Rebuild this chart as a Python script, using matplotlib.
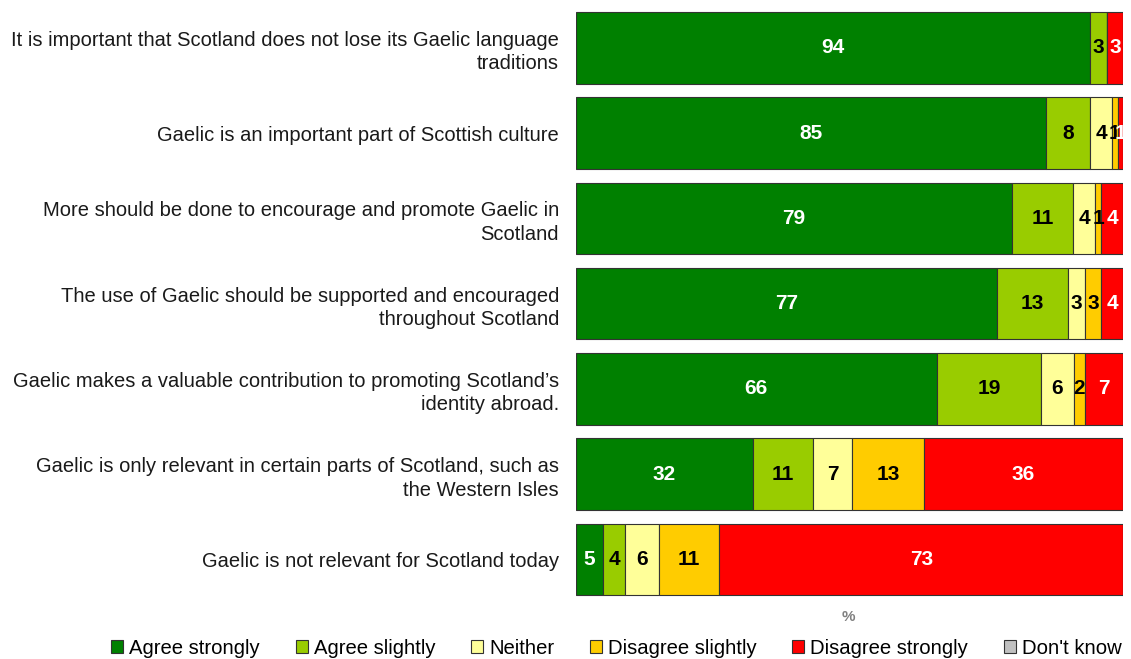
import numpy as np
import matplotlib
matplotlib.use("Agg")
from matplotlib import pyplot as plt

plt.rcParams['font.family'] = ['Liberation Sans', 'DejaVu Sans']

statements = [
    "It is important that Scotland does not lose its Gaelic language\ntraditions",
    "Gaelic is an important part of Scottish culture",
    "More should be done to encourage and promote Gaelic in\nScotland",
    "The use of Gaelic should be supported and encouraged\nthroughout Scotland",
    "Gaelic makes a valuable contribution to promoting Scotland\u2019s\nidentity abroad.",
    "Gaelic is only relevant in certain parts of Scotland, such as\nthe Western Isles",
    "Gaelic is not relevant for Scotland today",
]
categories = ["Agree strongly", "Agree slightly", "Neither", "Disagree slightly",
              "Disagree strongly", "Don't know"]
agree_strongly = [94, 85, 79, 77, 66, 32, 5]
agree_slightly = [3, 8, 11, 13, 19, 11, 4]
neither = [0, 4, 4, 3, 6, 7, 6]
disagree_slightly = [0, 1, 1, 3, 2, 13, 11]
disagree_strongly = [3, 1, 4, 4, 7, 36, 73]
dont_know = [0, 0, 0, 0, 0, 0, 0]

colors = ["#008000", "#99CC00", "#FFFF99", "#FFCC00", "#FF0000", "#C0C0C0"]
text_colors = ["white", "black", "black", "black", "white", "black"]

series = np.array([agree_strongly, agree_slightly, neither, disagree_slightly,
                   disagree_strongly, dont_know], dtype=float)
totals = series.sum(axis=0)
widths = series / totals * 100  # stretch rounded rows to full width

fig = plt.figure(figsize=(11.31, 6.59), dpi=100)
ax = fig.add_axes([0.509, 0.0865, 0.484, 0.9055])

y = np.arange(len(statements))
left = np.zeros(len(statements))
for i, cat in enumerate(categories):
    ax.barh(y, widths[i], left=left, height=0.84, color=colors[i],
            edgecolor="#333333", linewidth=0.8, label=cat)
    for j in range(len(statements)):
        v = series[i, j]
        if v > 0:
            ax.text(left[j] + widths[i, j] / 2, y[j], f"{int(v)}", ha="center", va="center",
                    fontsize=15, fontweight="bold", color=text_colors[i])
    left += widths[i]

ax.set_xlim(0, 100)
ax.set_ylim(len(statements) - 0.5, -0.5)
ax.set_yticks(y)
ax.set_yticklabels(statements, fontsize=14.5, color="#1a1a1a", linespacing=1.3)
ax.tick_params(axis="y", length=0, pad=12)
ax.set_xticks([])
for s in ax.spines.values():
    s.set_visible(False)

fig.text(0.75, 0.063, "%", ha="center", va="center", fontsize=11,
         fontweight="bold", color="#808080")

handles = [plt.Rectangle((0, 0), 1, 1, facecolor=c, edgecolor="#333333", linewidth=0.8)
           for c in colors]
fig.legend(handles, categories, loc="center", bbox_to_anchor=(0.545, 0.016), ncol=6,
           frameon=False, fontsize=14.6, handlelength=0.6, handleheight=0.6,
           handletextpad=0.3, columnspacing=1.75, borderaxespad=0)

fig.savefig("out.png", dpi=100)
